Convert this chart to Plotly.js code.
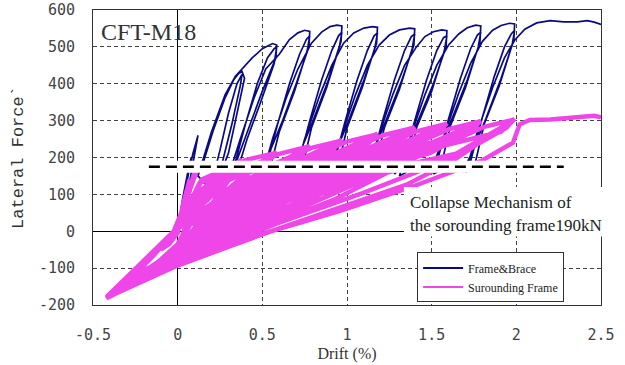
<!DOCTYPE html>
<html>
<head>
<meta charset="utf-8">
<script src="https://cdn.plot.ly/plotly-3.0.1.min.js"></script>
<style>html,body{margin:0;padding:0;background:#fff;}#chart{width:625px;height:365px;}</style>
</head>
<body>
<div id="chart"></div>
<script>
// ---- Frame & Brace ----
var frameBraceDrift = [
  0,0.03,0.06,0.08,0.05,0.01,0.04,0.09,0.12,0.08,0.03,
  0.1,0.15,0.21,0.28,0.33,0.36,0.38,0.395,0.36,0.3,0.24,0.18,
  0.2,0.25,0.3,0.35,0.38,0.37,0.32,0.26,0.2,
  0.12,0.2,0.28,0.34,0.4,0.44,0.5,0.56,0.585,0.58,0.5,0.42,0.34,0.29,
  0.33,0.4,0.47,0.53,0.57,0.585,0.57,0.49,0.41,0.35,
  0.3,0.37,0.45,0.52,0.6,0.66,0.71,0.75,0.78,0.775,0.7,0.62,0.53,0.48,
  0.52,0.59,0.66,0.72,0.76,0.78,0.765,0.69,0.6,0.54,
  0.5,0.56,0.64,0.71,0.79,0.85,0.9,0.94,0.97,0.965,0.89,0.8,0.71,0.66,
  0.71,0.78,0.85,0.91,0.95,0.97,0.955,0.88,0.79,0.73,
  0.69,0.75,0.84,0.91,0.98,1.04,1.1,1.15,1.18,1.175,1.1,1.01,0.92,0.87,
  0.92,0.99,1.06,1.12,1.16,1.18,1.165,1.09,1.0,0.94,
  0.9,0.96,1.05,1.12,1.19,1.25,1.31,1.37,1.40,1.395,1.32,1.23,1.14,1.09,
  1.14,1.21,1.28,1.34,1.38,1.40,1.385,1.31,1.22,1.16,
  1.12,1.18,1.27,1.34,1.41,1.46,1.51,1.56,1.59,1.585,1.51,1.42,1.33,1.28,
  1.33,1.4,1.47,1.53,1.57,1.59,1.575,1.5,1.41,1.35,
  1.31,1.37,1.46,1.53,1.6,1.66,1.71,1.76,1.79,1.785,1.71,1.62,1.53,1.48,
  1.53,1.6,1.67,1.73,1.77,1.79,1.775,1.7,1.61,1.55,
  1.51,1.57,1.66,1.73,1.8,1.86,1.91,1.96,1.99,1.985,1.91,1.82,1.73,1.68,
  1.73,1.8,1.87,1.93,1.97,1.99,1.975,1.9,1.81,1.75,
  1.7,1.77,1.86,1.93,1.99,2.05,2.12,2.2,2.28,2.36,2.42,2.46,2.5
];
var frameBraceForce = [
  0,90,160,200,120,20,110,210,260,160,30,
  150,185,273,362,410,428,433,415,340,212,140,80,
  130,220,320,400,425,395,290,180,110,
  150,270,370,420,450,470,495,509,505,470,380,280,180,150,
  170,290,400,470,495,500,455,350,250,160,
  150,250,360,440,480,520,538,545,542,500,400,300,200,155,
  170,290,400,480,520,530,490,380,270,160,
  150,250,360,440,510,540,555,559,557,515,410,300,200,155,
  180,300,410,490,530,540,500,390,280,160,
  150,250,370,450,510,538,551,555,553,510,410,300,200,155,
  180,300,410,490,530,538,498,390,280,160,
  150,250,370,450,505,532,546,551,549,505,405,300,200,155,
  180,300,410,490,528,535,495,385,280,160,
  150,250,370,450,500,528,541,546,544,500,400,300,200,155,
  180,300,410,490,525,530,490,380,280,160,
  150,250,370,450,505,535,552,559,557,512,410,305,205,160,
  185,305,415,495,532,540,500,390,285,165,
  155,255,375,455,515,545,558,564,562,518,415,305,205,160,
  190,310,420,500,535,545,505,395,290,170,
  160,270,390,470,518,548,565,571,568,568,571,567,561
];

// ---- Surrounding Frame ----
var surroundDrift = [
  0,0.03,0.07,0.03,-0.05,-0.1,-0.05,0,0.05,0.1,0.13,0.07,0,-0.15,-0.25,
  -0.15,0,0.1,0.22,0.32,0.38,0.34,0.2,0.08,0,-0.28,
  -0.12,0,0.12,0.26,0.36,0.33,0.15,0,-0.3,
  -0.15,0,0.15,0.3,0.45,0.585,0.54,0.3,0.12,0,-0.32,
  -0.15,0,0.2,0.38,0.52,0.58,0.52,0.25,0,-0.33,
  0,0.25,0.45,0.57,0.5,0.2,0,-0.3,
  0,0.14,0.4,0.575,0.5,0.24,0.08,0,-0.33,
  -0.15,0,0.25,0.42,0.58,0.78,0.73,0.48,0.2,0,-0.35,
  -0.15,0,0.3,0.5,0.66,0.77,0.7,0.44,0,-0.36,
  0,0.3,0.55,0.75,0.68,0.4,0,-0.34,
  0,0.33,0.6,0.77,0.7,0.43,0.13,0,-0.35,
  -0.15,0,0.3,0.5,0.75,0.97,0.92,0.67,0.37,0,-0.37,
  0,0.35,0.58,0.82,0.96,0.9,0.63,0,-0.38,
  0,0.35,0.65,0.93,0.87,0.58,0,-0.36,
  0,0.52,0.79,0.96,0.89,0.62,0.32,0,-0.37,
  -0.15,0,0.35,0.6,0.9,1.18,1.13,0.88,0.55,0,-0.39,
  0,0.4,0.7,1.0,1.17,1.11,0.84,0,-0.4,
  0,0.42,0.8,1.14,1.08,0.78,0,-0.38,
  0,0.73,1.0,1.17,1.1,0.83,0.53,0,-0.39,
  -0.15,0,0.4,0.72,1.05,1.4,1.35,1.1,0.72,0,-0.4,
  0,0.45,0.82,1.2,1.39,1.33,1.05,0,-0.41,
  0,0.48,0.95,1.36,1.3,1.0,0,-0.4,
  0,0.95,1.22,1.39,1.32,1.05,0.75,0,-0.4,
  -0.15,0,0.45,0.82,1.2,1.59,1.54,1.29,0.88,0,-0.41,
  0,0.5,0.95,1.35,1.58,1.52,1.25,0,-0.42,
  0,0.55,1.08,1.55,1.49,1.2,0,-0.41,
  0,1.14,1.41,1.58,1.51,1.24,0.94,0,-0.41,
  -0.15,0,0.5,0.92,1.35,1.79,1.74,1.49,1.05,0,-0.42,
  0,0.55,1.05,1.52,1.78,1.72,1.45,0,-0.42,
  0,0.6,1.2,1.75,1.69,1.4,0,-0.42,
  0,1.34,1.61,1.78,1.71,1.44,1.14,0,-0.42,
  -0.15,0,0.6,1.0,1.36,1.62,1.86,1.99,1.94,1.69,1.2,0,-0.42,
  0,0.58,1.1,1.55,1.8,1.98,1.92,1.66,0,-0.42,
  0,1.54,1.81,1.98,1.91,1.64,1.34,0,-0.42,
  0,0.55,0.96,1.38,1.79,1.98,2.02,2.08,2.2,2.3,2.4,2.46,2.5
];
var surroundForce = [
  0,70,140,60,-30,-50,-35,-5,90,160,185,110,10,-70,-115,
  -95,-45,40,125,175,195,172,120,70,10,-130,
  -85,-35,70,150,188,165,105,10,-140,
  -105,-55,30,115,175,215,192,138,85,10,-150,
  -100,-50,60,145,198,210,185,130,10,-152,
  -45,90,170,205,180,120,10,-145,
  -50,140,193,212,180,150,90,10,-152,
  -110,-62,38,112,180,232,207,152,95,10,-158,
  -105,-58,70,145,200,228,200,145,10,-162,
  -50,95,175,222,195,140,10,-155,
  -55,157,210,229,197,167,132,10,-158,
  -112,-68,30,110,188,248,222,165,110,10,-165,
  -64,65,145,210,243,217,160,10,-168,
  -55,95,180,238,212,155,10,-162,
  -60,173,226,245,213,183,148,10,-165,
  -115,-73,25,100,190,265,240,180,125,10,-170,
  -70,60,145,220,260,235,175,10,-172,
  -60,95,185,255,230,170,10,-168,
  -65,190,243,262,230,200,165,10,-170,
  -118,-78,18,100,195,283,258,195,140,10,-174,
  -75,55,145,235,278,253,190,10,-175,
  -65,90,190,273,248,185,10,-172,
  -70,208,261,280,248,218,183,10,-174,
  -120,-82,14,95,190,293,268,205,150,10,-176,
  -79,50,145,235,288,263,200,10,-178,
  -70,85,190,283,258,195,10,-176,
  -75,218,271,290,258,228,193,10,-176,
  -122,-86,10,85,185,300,275,212,160,10,-178,
  -83,45,140,235,296,271,207,10,-180,
  -75,75,180,290,265,202,10,-178,
  -80,225,278,297,265,235,200,10,-178,
  -124,-92,8,72,128,190,265,305,280,215,165,10,-180,
  -88,20,105,185,250,300,275,210,10,-182,
  -85,230,283,302,270,240,205,10,-180,
  -93,0,55,120,190,240,290,302,303,306,310,313,309
];

// ---- Collapse mechanism level (dashed line) ----
var collapseDrift = [-0.17, 2.28];
var collapseForce = [175, 175];

// ---- Axis ticks ----
var xTickVals = [-0.5, 0, 0.5, 1, 1.5, 2, 2.5];
var xTickText = ['-0.5', '0', '0.5', '1', '1.5', '2', '2.5'];
var yTickVals = [-200, -100, 0, 100, 200, 300, 400, 500, 600];
var yTickText = ['-200', '-100', '0', '100', '200', '300', '400', '500', '600'];

var navy = 'rgb(10,10,130)';
var pink = 'rgb(238,70,232)';

var traces = [
  {x: frameBraceDrift, y: frameBraceForce, type: 'scatter', mode: 'lines',
   name: 'Frame&Brace', showlegend: false, line: {color: navy, width: 1.7}},
  {x: surroundDrift, y: surroundForce, type: 'scatter', mode: 'lines',
   name: 'Surounding Frame', showlegend: false, line: {color: pink, width: 4.5}},
  {x: collapseDrift, y: collapseForce, type: 'scatter', mode: 'lines',
   showlegend: false, hoverinfo: 'skip', line: {color: '#ffffff', width: 12}},
  {x: collapseDrift, y: collapseForce, type: 'scatter', mode: 'lines',
   showlegend: false, hoverinfo: 'skip', line: {color: '#000000', width: 2.5, dash: '11px,6px'}},
  // legend entries
  {x: [null], y: [null], type: 'scatter', mode: 'lines', name: 'Frame&Brace',
   line: {color: navy, width: 1.8}},
  {x: [null], y: [null], type: 'scatter', mode: 'lines', name: 'Surounding Frame',
   line: {color: pink, width: 1.8}}
];

var tickFont = {family: 'DejaVu Sans Mono', size: 15, color: '#444'};

var layout = {
  width: 625, height: 365,
  margin: {l: 93, r: 24, t: 10, b: 60},
  paper_bgcolor: '#fff', plot_bgcolor: '#fff',
  showlegend: true,
  xaxis: {
    range: [-0.5, 2.5], tickmode: 'array', tickvals: xTickVals, ticktext: xTickText,
    tickfont: tickFont, ticks: '', ticklabelstandoff: 16,
    showgrid: true, gridcolor: '#444', griddash: '4px,3px', gridwidth: 1,
    zeroline: true, zerolinecolor: '#000', zerolinewidth: 1,
    showline: true, linecolor: '#333', linewidth: 1, mirror: true,
    title: {text: 'Drift (%)', font: {family: 'Liberation Serif', size: 16, color: '#333'}, standoff: 4}
  },
  yaxis: {
    range: [-200, 600], tickmode: 'array', tickvals: yTickVals, ticktext: yTickText,
    tickfont: tickFont, ticks: '', ticklabelstandoff: 14,
    showgrid: true, gridcolor: '#444', griddash: '4px,3px', gridwidth: 1,
    zeroline: true, zerolinecolor: '#000', zerolinewidth: 1,
    showline: true, linecolor: '#333', linewidth: 1, mirror: true,
    title: {text: 'Lateral Force`', font: {family: 'Liberation Mono', size: 17, color: '#333'}, standoff: 10}
  },
  legend: {
    x: 0.638, y: 0.178, xanchor: 'left', yanchor: 'top',
    bgcolor: '#fff', bordercolor: '#333', borderwidth: 1,
    font: {family: 'Liberation Serif', size: 12, color: '#222'},
    itemwidth: 40, tracegroupgap: 0
  },
  shapes: [
    {type: 'rect', xref: 'paper', yref: 'paper', x0: 0.612, x1: 1.041, y0: 0.232, y1: 0.4,
     fillcolor: '#fff', line: {width: 0}, layer: 'above'}
  ],
  annotations: [
    {text: 'CFT-M18', xref: 'paper', yref: 'paper', x: 0.012, y: 0.975, xanchor: 'left', yanchor: 'top',
     showarrow: false, font: {family: 'Liberation Serif', size: 24, color: '#333'}},
    {text: 'Collapse Mechanism of', xref: 'paper', yref: 'paper', x: 0.62, y: 0.346, xanchor: 'left', yanchor: 'middle',
     showarrow: false, font: {family: 'Liberation Serif', size: 17, color: '#222'}},
    {text: 'the sorounding frame190kN', xref: 'paper', yref: 'paper', x: 0.62, y: 0.271, xanchor: 'left', yanchor: 'middle',
     showarrow: false, font: {family: 'Liberation Serif', size: 17, color: '#222'}}
  ]
};

Plotly.newPlot('chart', traces, layout, {displayModeBar: false, staticPlot: true});
</script>
</body>
</html>
